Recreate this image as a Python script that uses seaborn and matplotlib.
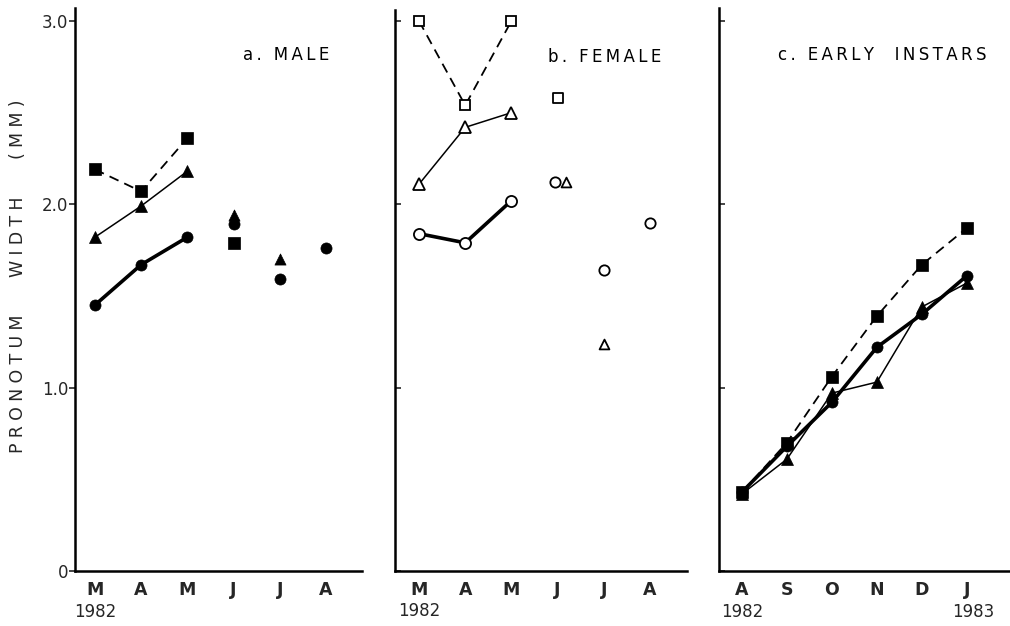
import matplotlib
matplotlib.use("Agg")
import matplotlib.pyplot as plt
import matplotlib.transforms as mtransforms
import seaborn as sns

# ---------------- data ----------------
months_ab = ["M", "A", "M", "J", "J", "A"]
months_c = ["A", "S", "O", "N", "D", "J"]
month_pos = [0, 1, 2, 3, 4, 5]
line_pos = [0, 1, 2]

# a. MALE
male_sq_line = [2.19, 2.07, 2.36]
male_tri_line = [1.82, 1.99, 2.18]
male_cir_line = [1.45, 1.67, 1.82]
male_sq_x, male_sq_y = [3], [1.79]
male_tri_x, male_tri_y = [3, 4], [1.94, 1.70]
male_cir_x, male_cir_y = [3, 4, 5], [1.89, 1.59, 1.76]

# b. FEMALE
female_sq_line = [3.00, 2.54, 3.00]
female_tri_line = [2.11, 2.42, 2.50]
female_cir_line = [1.84, 1.79, 2.02]
female_sq_x, female_sq_y = [3], [2.58]
female_tri_x, female_tri_y = [3.18, 4], [2.12, 1.24]
female_cir_x, female_cir_y = [2.95, 4, 5], [2.12, 1.64, 1.90]

# c. EARLY INSTARS
early_sq = [0.43, 0.70, 1.06, 1.39, 1.67, 1.87]
early_cir = [0.43, 0.68, 0.92, 1.22, 1.40, 1.61]
early_tri = [0.42, 0.61, 0.97, 1.03, 1.44, 1.57]

y_ticks = [0, 1, 2, 3]
y_ticklabels = ["0", "1.0", "2.0", "3.0"]
titles = ["a. MALE", "b. FEMALE", "c. EARLY  INSTARS"]
year_start = "1982"
year_end = "1983"
ylabel = "PRONOTUM   WIDTH   (MM)"

# ---------------- style ----------------
sns.set_style("ticks")
plt.rcParams["font.family"] = ["DejaVu Sans"]

def spaced(s, sep="\u2009"):
    return sep.join(list(s))

fig = plt.figure(figsize=(10.10, 6.26), dpi=100)
W, H = 1010, 626

def add_axes(left, right, top, bottom):
    return fig.add_axes([left / W, 1 - bottom / H, (right - left) / W, (bottom - top) / H])

ax_a = add_axes(75, 362, 8, 571)
ax_b = add_axes(395, 687, 10, 571)
ax_c = add_axes(719, 1010, 8, 571)

xlims = [(-0.43, 5.78), (-0.52, 5.80), (-0.51, 5.96)]
ytop = [3.07, 3.06, 3.07]

BLACK = "black"
dash_kw = dict(color=BLACK, linestyle=(0, (5.5, 3.5)), linewidth=1.3)
thin_kw = dict(color=BLACK, linestyle="-", linewidth=1.1)
thick_kw = dict(color=BLACK, linestyle="-", linewidth=2.6)

def filled(marker, ms):
    return dict(marker=marker, markersize=ms, markerfacecolor=BLACK,
                markeredgecolor=BLACK, markeredgewidth=0.5)

def hollow(marker, ms):
    return dict(marker=marker, markersize=ms, markerfacecolor="white",
                markeredgecolor=BLACK, markeredgewidth=1.3)

def pts(ax, x, y, marker, s, fill=True):
    sns.scatterplot(x=x, y=y, marker=marker, s=s, ax=ax,
                    color=BLACK if fill else "white",
                    edgecolor=BLACK, linewidth=0.5 if fill else 1.3, zorder=5)

# panel a
sns.lineplot(x=line_pos, y=male_sq_line, ax=ax_a, **dash_kw, **filled("s", 8))
sns.lineplot(x=line_pos, y=male_tri_line, ax=ax_a, **thin_kw, **filled("^", 8.5))
sns.lineplot(x=line_pos, y=male_cir_line, ax=ax_a, **thick_kw, **filled("o", 8))
pts(ax_a, male_sq_x, male_sq_y, "s", 64)
pts(ax_a, male_tri_x, male_tri_y, "^", 64)
pts(ax_a, male_cir_x, male_cir_y, "o", 64)

# panel b
sns.lineplot(x=line_pos, y=female_sq_line, ax=ax_b, **dash_kw, **hollow("s", 7.5))
sns.lineplot(x=line_pos, y=female_tri_line, ax=ax_b, **thin_kw, **hollow("^", 8))
sns.lineplot(x=line_pos, y=female_cir_line, ax=ax_b, **thick_kw, **hollow("o", 8))
pts(ax_b, female_sq_x, female_sq_y, "s", 50, fill=False)
pts(ax_b, female_tri_x, female_tri_y, "^", 50, fill=False)
pts(ax_b, female_cir_x, female_cir_y, "o", 55, fill=False)

# panel c
sns.lineplot(x=month_pos, y=early_sq, ax=ax_c, **dash_kw, **filled("s", 8))
sns.lineplot(x=month_pos, y=early_tri, ax=ax_c, **thin_kw, **filled("^", 8.5))
sns.lineplot(x=month_pos, y=early_cir, ax=ax_c, **thick_kw, **filled("o", 8))

title_x = [0.585, 0.524, 0.203]
for i, ax in enumerate([ax_a, ax_b, ax_c]):
    ax.set_xlim(*xlims[i])
    ax.set_ylim(0, ytop[i])
    ax.set_xticks(month_pos)
    ax.set_xticklabels(months_c if i == 2 else months_ab,
                       fontsize=12.5, fontweight="bold")
    ax.tick_params(axis="x", length=0, pad=7)
    ax.set_yticks(y_ticks)
    if i == 0:
        ax.set_yticklabels(y_ticklabels, fontsize=12)
        ax.tick_params(axis="y", direction="out", length=4, width=1.2, pad=1)
    else:
        ax.set_yticklabels([])
        ax.tick_params(axis="y", direction="in", length=4, width=1.2)
    for side in ["top", "right"]:
        ax.spines[side].set_visible(False)
    for side in ["left", "bottom"]:
        ax.spines[side].set_linewidth(1.8)
        ax.spines[side].set_color(BLACK)
    ax.set_xlabel("")
    ax.set_ylabel("")
    ax.text(title_x[i], 0.917, spaced(titles[i]), transform=ax.transAxes,
            fontsize=12, ha="left", va="center", color=BLACK)
    trans = mtransforms.blended_transform_factory(ax.transData, ax.transAxes)
    ax.text(0, -0.072, year_start, transform=trans, ha="center", va="center",
            fontsize=12)

trans_c = mtransforms.blended_transform_factory(ax_c.transData, ax_c.transAxes)
ax_c.text(5.15, -0.072, year_end, transform=trans_c, ha="center", va="center",
          fontsize=12)

fig.text(18 / W, 1 - 276 / H, spaced(ylabel, "\u2009\u200a"), rotation=90,
         ha="center", va="center", fontsize=12.5)

fig.savefig("out.png", dpi=100)
